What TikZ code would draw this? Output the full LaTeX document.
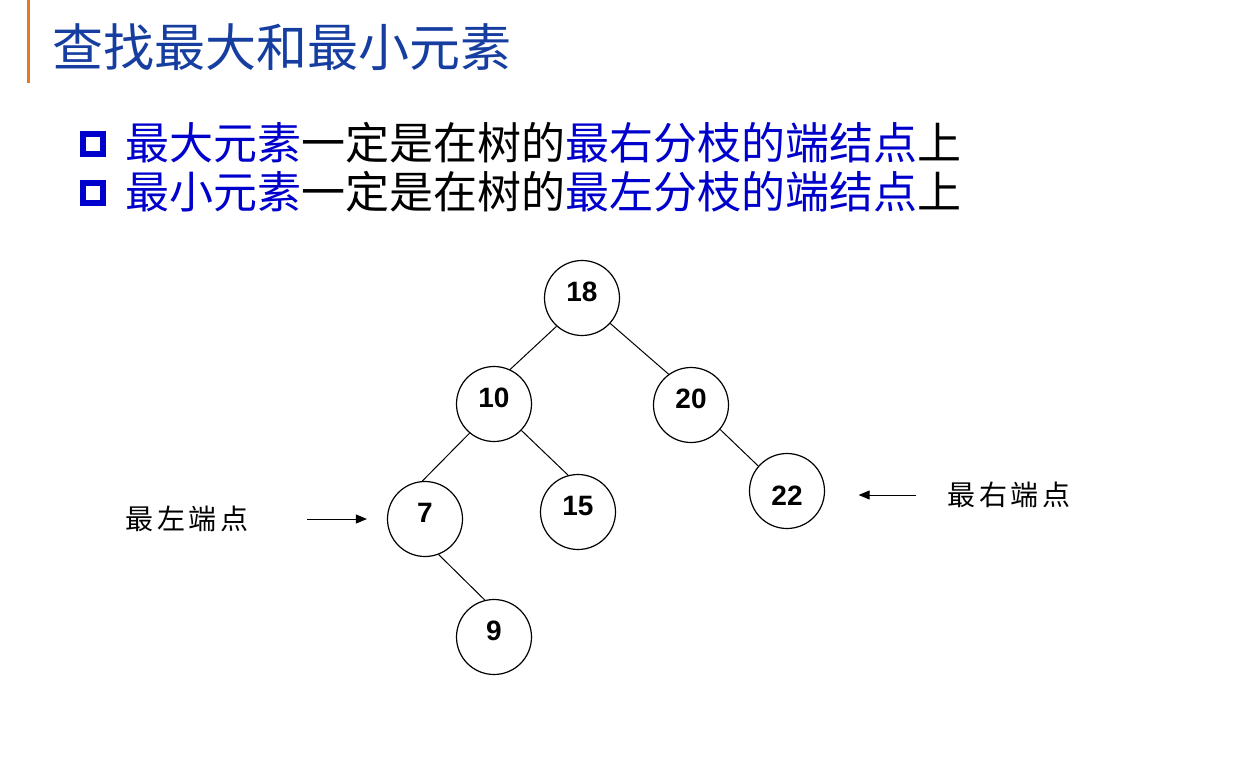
\documentclass[tikz,border=0pt]{standalone}
\usepackage{fontspec}
\setmainfont{Liberation Sans}
\newfontfamily\cjk{Noto Sans CJK SC}
\newfontfamily\cjklabel[LetterSpace=14]{Noto Sans CJK SC}
\usetikzlibrary{%
	arrows.meta,%
	positioning,%
}
\definecolor{ctitle}{RGB}{22, 62, 160}
\definecolor{cblue}{RGB}{0, 0, 204}
\definecolor{corange}{RGB}{224, 122, 40}
\tikzset{
	>={Triangle[length=5.5pt,width=4.5pt]},%
	titletext/.style={%
			text=ctitle,%
			inner sep=0pt,%
			font={\cjk\fontsize{25.5}{26}\selectfont}},%
	bullettext/.style={%
			inner sep=0pt,%
			font={\cjk\fontsize{22}{24}\selectfont}},%
	bulletbox/.style={%
			draw=cblue,%
			rectangle,%
			line width=3pt,%
			minimum size=10pt,%
			inner sep=0pt},%
	treenode/.style={%
			draw,%
			circle,%
			line width=0.6pt,%
			minimum size=37.5pt,%
			inner sep=0pt,%
			text depth=6pt,%
			font={\fontsize{14}{14}\selectfont\bfseries}},%
	sidelabel/.style={%
			inner sep=0pt,%
			font={\cjklabel\fontsize{14}{14}\selectfont}},%
	edge/.style={line width=0.5pt},%
}

\begin{document}
\begin{tikzpicture}[x=0.5pt, y=-0.5pt]
	\useasboundingbox (0,0) rectangle (1260,761);

	% title bar
	\draw[corange, line width=1.5pt] (28,0) -- (28,83);
	\node[titletext, anchor=west] (title) at (52,47) {查找最大和最小元素};

	% two bullet lines
	\node[bulletbox] (b1) at (93,143.5) {};
	\node[bullettext, anchor=west] (t1) at (125,143) {\textcolor{cblue}{最大元素}一定是在树的\textcolor{cblue}{最右分枝的端结点}上};
	\node[bulletbox] (b2) at (93,193) {};
	\node[bullettext, anchor=west] (t2) at (125,192) {\textcolor{cblue}{最小元素}一定是在树的\textcolor{cblue}{最左分枝的端结点}上};

	% the tree
	\node[treenode] (n18) at (582,298) {18};
	\node[treenode] (n10) at (494,404) {10};
	\node[treenode] (n20) at (691,405) {20};
	\node[treenode] (n7) at (425,519) {7};
	\node[treenode] (n15) at (578,512) {15};
	\node[treenode, text height=14pt, text depth=0pt] (n22) at (787,491) {22};
	\node[treenode] (n9) at (494,637) {9};

	\foreach \a/\b in {n18.228/n10.65, n18.-42/n20.126, n10.230/n7.94,
			n10.-44/n15.105, n20.-40/n22.139, n7.-69/n9.104}
		\draw[edge] (\a) -- (\b);

	% end points
	\node[sidelabel] (lmin) at (187,519) {最左端点};
	\node[sidelabel] (lmax) at (1009,495) {最右端点};
	\coordinate (amin) at (307,519);
	\coordinate (amax) at (916,495);
	\draw[->, edge, shorten >=10pt] (amin) -- (n7);
	\draw[->, edge, shorten >=16.75pt] (amax) -- (amax -| n22.east);
\end{tikzpicture}
\end{document}
